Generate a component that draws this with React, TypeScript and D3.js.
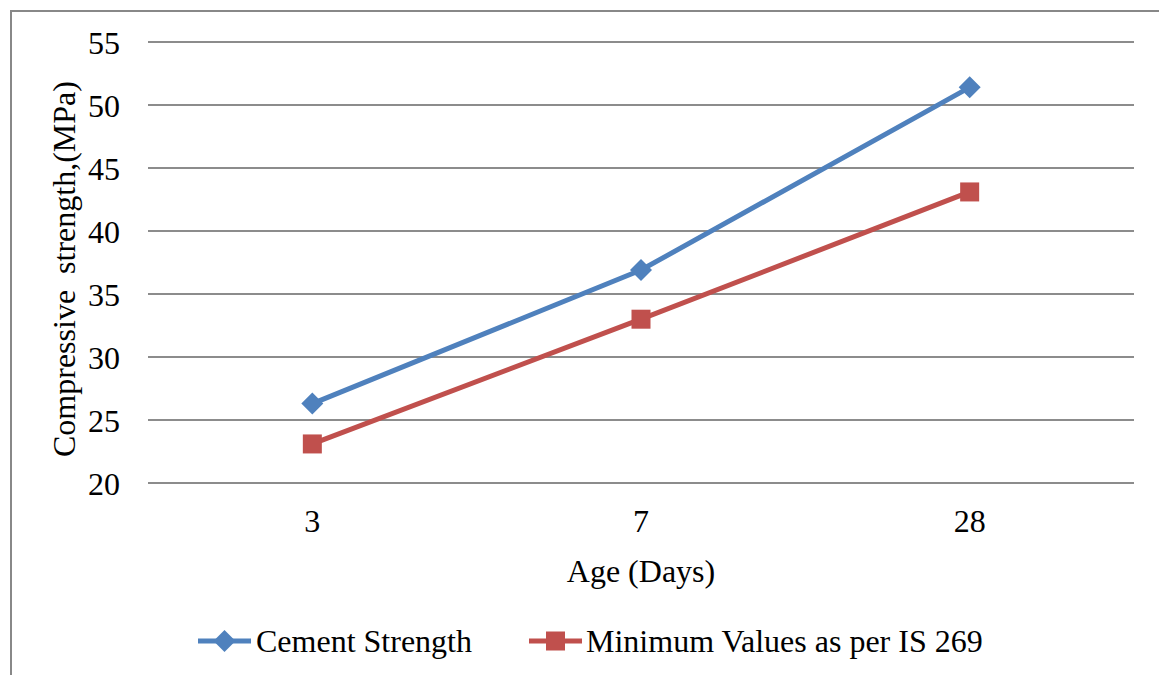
import React from "react";
import * as d3 from "d3";

const categories = ["3", "7", "28"];
const cementStrength = [26.3, 36.9, 51.4];
const minimumValues = [23.1, 33.0, 43.1];
const yTicks = [20, 25, 30, 35, 40, 45, 50, 55];

const W = 1159;
const H = 675;
const left = 148;
const right = 1134;
const top = 42;
const bottom = 483;
const BLUE = "#4F81BD";
const RED = "#C0504D";
const FONT = "'Liberation Serif', 'Times New Roman', serif";
const FS = 32;

export default function App() {
  const x = d3.scaleBand<string>().domain(categories).range([left, right]);
  const y = d3.scaleLinear().domain([20, 55]).range([bottom, top]);
  const cx = (c: string) => (x(c) as number) + x.bandwidth() / 2;
  const line = d3
    .line<number>()
    .x((_, i) => cx(categories[i]))
    .y((d) => y(d));

  const diamond = (px: number, py: number, r = 11) =>
    `M${px},${py - r}L${px + r},${py}L${px},${py + r}L${px - r},${py}Z`;

  return (
    <svg
      width={W}
      height={H}
      style={{ position: "absolute", left: 0, top: 0, background: "#fff" }}
    >
      <rect x={11} y={11} width={W} height={H} fill="none" stroke="#888" strokeWidth={2} />
      {yTicks.map((t) => (
        <g key={t}>
          <line x1={left} x2={right} y1={y(t)} y2={y(t)} stroke="#8c8c8c" strokeWidth={2} />
          <text
            x={120}
            y={y(t) + 11.5}
            textAnchor="end"
            fontFamily={FONT}
            fontSize={FS}
          >
            {t}
          </text>
        </g>
      ))}
      {categories.map((c) => (
        <text
          key={c}
          x={cx(c)}
          y={532}
          textAnchor="middle"
          fontFamily={FONT}
          fontSize={FS}
        >
          {c}
        </text>
      ))}
      <text x={641} y={582} textAnchor="middle" fontFamily={FONT} fontSize={FS}>
        Age (Days)
      </text>
      <text
        transform={`translate(75,269) rotate(-90)`}
        textAnchor="middle"
        fontFamily={FONT}
        fontSize={FS}
        style={{ whiteSpace: "pre" }}
      >
        {"Compressive  strength,(MPa)"}
      </text>

      <path d={line(cementStrength) || ""} fill="none" stroke={BLUE} strokeWidth={5} />
      {cementStrength.map((v, i) => (
        <path key={i} d={diamond(cx(categories[i]), y(v))} fill={BLUE} />
      ))}
      <path d={line(minimumValues) || ""} fill="none" stroke={RED} strokeWidth={5} />
      {minimumValues.map((v, i) => (
        <rect
          key={i}
          x={cx(categories[i]) - 9.5}
          y={y(v) - 9.5}
          width={19}
          height={19}
          fill={RED}
        />
      ))}

      <g>
        <line x1={198} x2={251} y1={641} y2={641} stroke={BLUE} strokeWidth={5} />
        <path d={diamond(224.5, 641)} fill={BLUE} />
        <text x={256} y={652} fontFamily={FONT} fontSize={FS}>
          Cement Strength
        </text>
        <line x1={529} x2={582} y1={641} y2={641} stroke={RED} strokeWidth={5} />
        <rect x={546} y={631.5} width={19} height={19} fill={RED} />
        <text x={586} y={652} fontFamily={FONT} fontSize={FS}>
          Minimum Values as per IS 269
        </text>
      </g>
    </svg>
  );
}
